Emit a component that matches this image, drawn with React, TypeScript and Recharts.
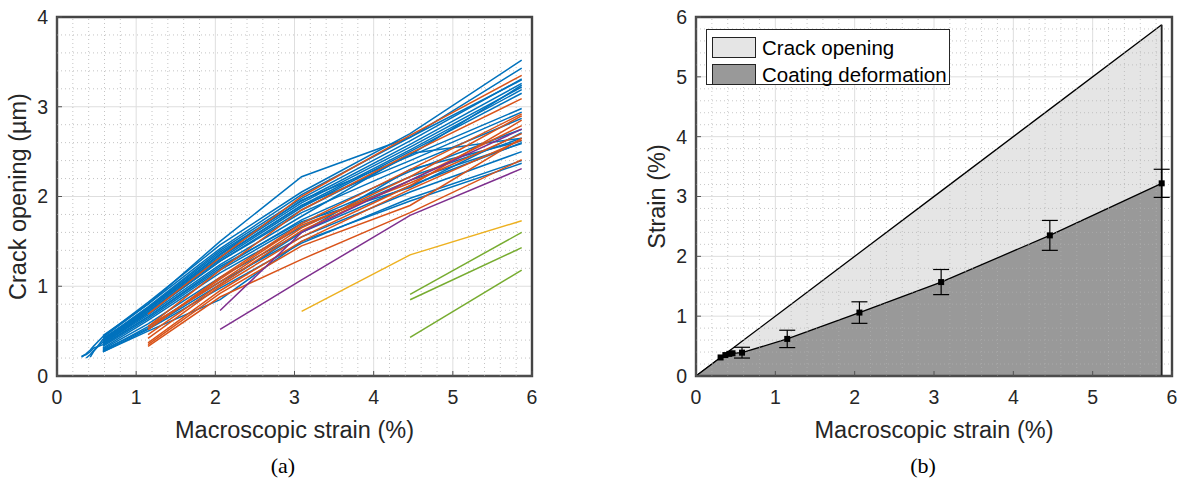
import React from 'react'
import {
  LineChart, Line, ComposedChart, Area, Scatter, ErrorBar,
  XAxis, YAxis, CartesianGrid, ReferenceLine, ReferenceArea, Legend
} from 'recharts'

// macroscopic strain (%) of each loading step
const strainSteps = [0.31, 0.37, 0.42, 0.46, 0.58, 1.15, 2.06, 3.09, 4.46, 5.87]
const xTicks = [0, 1, 2, 3, 4, 5, 6]
const crackTicks = [0, 1, 2, 3, 4]
const strainTicks = [0, 1, 2, 3, 4, 5, 6]
const xMinor = [0.2, 0.4, 0.6, 0.8, 1.2, 1.4, 1.6, 1.8, 2.2, 2.4, 2.6, 2.8, 3.2, 3.4, 3.6, 3.8, 4.2, 4.4, 4.6, 4.8, 5.2, 5.4, 5.6, 5.8]
const crackMinor = [0.2, 0.4, 0.6, 0.8, 1.2, 1.4, 1.6, 1.8, 2.2, 2.4, 2.6, 2.8, 3.2, 3.4, 3.6, 3.8]

// crack opening (µm) per crack, aligned with the LAST steps of strainSteps
const blueCracks = [
  [0.45, 0.80, 1.50, 2.22, 2.66, 3.30],
  [0.21, 0.25, 0.29, 0.33, 0.44, 0.82, 1.46, 2.05, 2.70, 3.52],
  [0.43, 0.80, 1.42, 2.02, 2.66, 3.43],
  [0.21, 0.27, 0.41, 0.77, 1.40, 1.98, 2.62, 3.31],
  [0.40, 0.76, 1.38, 1.95, 2.58, 3.26],
  [0.39, 0.75, 1.35, 1.93, 2.55, 3.22],
  [0.20, 0.24, 0.28, 0.38, 0.74, 1.33, 1.90, 2.52, 3.19],
  [0.37, 0.72, 1.30, 1.88, 2.50, 3.15],
  [0.36, 0.70, 1.28, 1.85, 2.46, 3.24],
  [0.42, 0.74, 1.36, 1.96, 2.45, 2.98],
  [0.40, 0.72, 1.32, 1.90, 2.40, 2.94],
  [0.38, 0.70, 1.28, 1.82, 2.35, 2.87],
  [0.36, 0.68, 1.24, 1.78, 2.48, 2.65],
  [0.34, 0.66, 1.20, 1.74, 2.28, 2.75],
  [0.33, 0.64, 1.18, 1.70, 2.22, 2.65],
  [0.31, 0.62, 1.15, 1.66, 2.18, 2.59],
  [0.30, 0.58, 1.10, 1.60, 2.12, 2.60],
  [0.28, 0.55, 1.05, 1.55, 2.05, 2.50],
  [0.27, 0.52, 0.98, 1.48, 1.98, 2.40],
  [0.27, 0.50, 0.85, 1.50, 1.95, 2.37],
  [0.29, 0.53, 1.02, 1.60, 2.30, 2.62],
  [0.22, 0.24, 0.27, 0.31, 0.35, 0.66, 1.22, 1.72, 2.10, 2.71],
]
const orangeCracks = [
  [0.69, 1.32, 2.00, 2.68, 3.35],
  [0.55, 1.18, 1.85, 2.48, 3.09],
  [0.52, 1.10, 1.70, 2.30, 2.92],
  [0.55, 1.05, 1.65, 2.22, 2.90],
  [0.46, 1.02, 1.62, 2.18, 2.79],
  [0.42, 1.00, 1.55, 2.12, 2.85],
  [0.37, 0.95, 1.50, 2.08, 2.63],
  [0.35, 0.92, 1.45, 1.90, 2.65],
  [0.33, 0.88, 1.30, 1.82, 2.41],
  [0.52, 1.08, 1.68, 2.15, 2.70],
]
const purpleCracks = [
  [0.73, 1.60, 2.18, 2.75],
  [0.52, 1.07, 1.79, 2.31],
]
const yellowCracks = [
  [0.72, 1.35, 1.73],
]
const greenCracks = [
  [0.91, 1.60],
  [0.85, 1.43],
  [0.43, 1.18],
]

// panel (b): coating deformation (%) and its std deviation at each step
const coatingDeformation = [0.31, 0.35, 0.37, 0.38, 0.39, 0.62, 1.06, 1.57, 2.35, 3.22]
const coatingError = [null, null, null, null, 0.09, 0.145, 0.18, 0.21, 0.25, 0.235]
const seriesNames = ['Crack opening', 'Coating deformation']
const seriesKeys = ['total', 'coating']

const BLUE = '#0072BD'
const ORANGE = '#D95319'
const YELLOW = '#EDB120'
const PURPLE = '#7E2F8E'
const GREEN = '#77AC30'
const TEXT = '#262626'
const AXIS = '#555555'
const FRAME = '#444444'
const MAJOR = '#dedede'
const MINOR = '#c4c4c4'
const FONT = '"Liberation Sans", Arial, Helvetica, sans-serif'

const groups = [
  { runs: blueCracks, color: BLUE },
  { runs: orangeCracks, color: ORANGE },
  { runs: purpleCracks, color: PURPLE },
  { runs: yellowCracks, color: YELLOW },
  { runs: greenCracks, color: GREEN },
]
const cracks = groups.flatMap(g => g.runs.map(values => ({ values, color: g.color })))

const crackRows = strainSteps.map((x, i) => {
  const row: Record<string, number | null> = { x }
  cracks.forEach((c, k) => {
    const off = strainSteps.length - c.values.length
    row['c' + k] = i >= off ? c.values[i - off] : null
  })
  return row
})

const areaRows = [
  { x: 0, total: 0, coating: 0 },
  ...strainSteps.map((x, i) => ({ x, total: x, coating: coatingDeformation[i] })),
]
const markerRows = strainSteps.map((x, i) => ({ x, coating: coatingDeformation[i], err: coatingError[i] }))
const lastStep = strainSteps[strainSteps.length - 1]

const tickStyle = { fill: TEXT, fontSize: 19.5, fontFamily: FONT }
const fills: Record<string, string> = { total: '#e5e5e5', coating: '#999999' }

const SquareDot = (props: any) => (
  <rect x={props.cx - 3} y={props.cy - 3} width={6} height={6} fill="#000" />
)

// legend in the order of the reference, not the drawing order
const renderLegend = () => (
  <div style={{ border: '1px solid #262626', background: '#fff', width: 244, height: 56, padding: '4px 0 0 5px', boxSizing: 'border-box' }}>
    {seriesNames.map((name, i) => (
      <div key={name} style={{ display: 'flex', alignItems: 'center', height: 27 }}>
        <span style={{ width: 44, height: 21, background: fills[seriesKeys[i]], border: '1px solid #222', boxSizing: 'border-box' }} />
        <span style={{ marginLeft: 6, fontSize: 20.5, fontFamily: FONT, color: '#000' }}>{name}</span>
      </div>
    ))}
  </div>
)

function App() {
  return (
    <div style={{ position: 'absolute', left: 0, top: 0, width: 1180, height: 488, background: '#fff' }}>
      <div style={{ position: 'absolute', left: 0, top: 0 }}>
        <LineChart width={560} height={420} data={crackRows} margin={{ top: 17, right: 28, bottom: 0, left: 0 }}>
          <CartesianGrid stroke={MAJOR} horizontal vertical />
          {xMinor.map(v => <ReferenceLine key={'xm' + v} x={v} stroke={MINOR} strokeDasharray="1 3" />)}
          {crackMinor.map(v => <ReferenceLine key={'ym' + v} y={v} stroke={MINOR} strokeDasharray="1 3" />)}
          {/* axes box: half of the stroke is clipped by the plot area */}
          <ReferenceArea x1={0} x2={6} y1={0} y2={4} fill="none" stroke={FRAME} strokeWidth={2.4} ifOverflow="visible" />
          <XAxis dataKey="x" type="number" domain={[0, 6]} ticks={xTicks} interval={0} height={44}
            tickSize={-5} tickMargin={19} axisLine={{ stroke: AXIS }} tickLine={{ stroke: AXIS }} tick={tickStyle} />
          <YAxis type="number" domain={[0, 4]} ticks={crackTicks} interval={0} width={57}
            tickSize={-5} tickMargin={14} axisLine={{ stroke: AXIS }} tickLine={{ stroke: AXIS }} tick={tickStyle} />
          {cracks.map((c, k) => (
            <Line key={'c' + k} type="linear" dataKey={'c' + k} stroke={c.color} strokeWidth={1.5}
              dot={false} activeDot={false} connectNulls={false} isAnimationActive={false} />
          ))}
        </LineChart>
      </div>

      <div style={{ position: 'absolute', left: 640, top: 0 }}>
        <ComposedChart width={540} height={420} data={areaRows} margin={{ top: 17, right: 8, bottom: 0, left: 0 }}>
          <CartesianGrid stroke={MAJOR} horizontal vertical />
          <Area type="linear" dataKey="total" name={seriesNames[0]} fill={fills.total} fillOpacity={1}
            stroke="#000" strokeWidth={1.3} isAnimationActive={false} />
          <Area type="linear" dataKey="coating" name={seriesNames[1]} fill={fills.coating} fillOpacity={1}
            stroke="#000" strokeWidth={1.3} isAnimationActive={false} />
          {xMinor.map(v => <ReferenceLine key={'xm' + v} x={v} stroke="#b0b0b0" strokeOpacity={0.7} strokeDasharray="1 3" />)}
          {xMinor.map(v => <ReferenceLine key={'ym' + v} y={v} stroke="#b0b0b0" strokeOpacity={0.7} strokeDasharray="1 3" />)}
          <ReferenceArea x1={0} x2={6} y1={0} y2={6} fill="none" stroke={FRAME} strokeWidth={2.4} ifOverflow="visible" />
          <ReferenceLine segment={[{ x: lastStep, y: 0 }, { x: lastStep, y: lastStep }]} stroke="#222" strokeWidth={1.8} />
          <Scatter data={markerRows} dataKey="coating" shape={SquareDot} legendType="none" isAnimationActive={false}>
            <ErrorBar dataKey="err" direction="y" width={8} stroke="#000" strokeWidth={1.2} />
          </Scatter>
          <XAxis dataKey="x" type="number" domain={[0, 6]} ticks={xTicks} interval={0} height={44}
            tickSize={-5} tickMargin={19} axisLine={{ stroke: AXIS }} tickLine={{ stroke: AXIS }} tick={tickStyle} />
          <YAxis type="number" domain={[0, 6]} ticks={strainTicks} interval={0} width={56}
            tickSize={-5} tickMargin={14} axisLine={{ stroke: AXIS }} tickLine={{ stroke: AXIS }} tick={tickStyle} />
          <Legend layout="vertical" align="center" verticalAlign="middle" content={renderLegend}
            wrapperStyle={{ left: 66, top: 29, width: 244, height: 56 }} />
        </ComposedChart>
      </div>

      <svg width={1180} height={488} style={{ position: 'absolute', left: 0, top: 0, pointerEvents: 'none' }}>
        <g fontFamily={FONT} fill={TEXT} fontSize={23.5}>
          <text x={294.5} y={438} textAnchor="middle">Macroscopic strain (%)</text>
          <text x={934} y={438} textAnchor="middle">Macroscopic strain (%)</text>
          <text transform="translate(26,196.5) rotate(-90)" textAnchor="middle">Crack opening (µm)</text>
          <text transform="translate(665,196.5) rotate(-90)" textAnchor="middle">Strain (%)</text>
        </g>
        <g fontFamily='"Liberation Serif", "Times New Roman", serif' fill="#000" fontSize={22}>
          <text x={283} y={473} textAnchor="middle">(a)</text>
          <text x={923} y={473} textAnchor="middle">(b)</text>
        </g>
      </svg>
    </div>
  )
}

export default App
